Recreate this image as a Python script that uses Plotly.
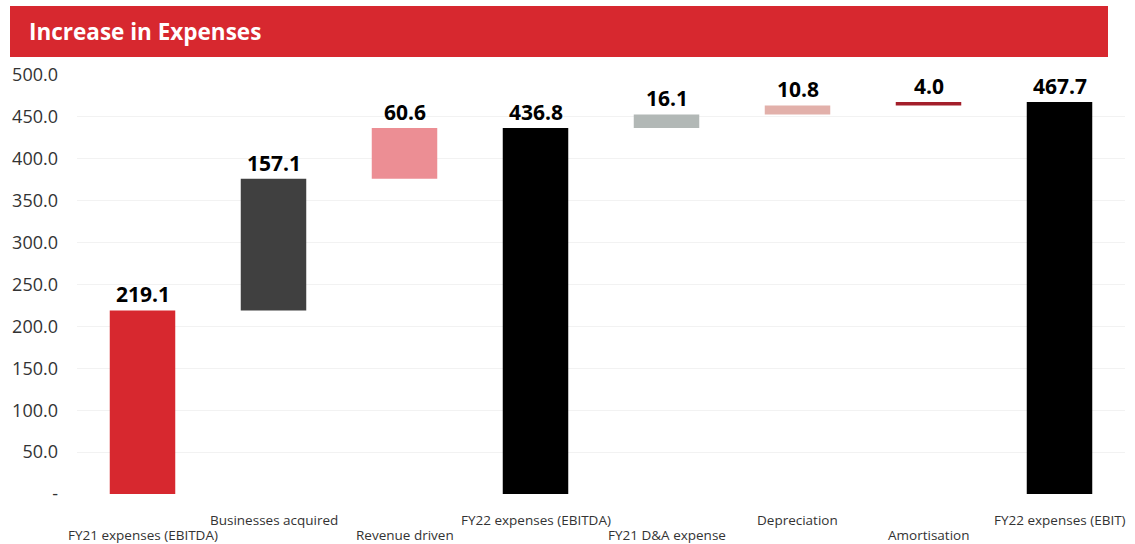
import plotly.graph_objects as go

# Expense bridge from FY21 to FY22
categories = [
    "FY21 expenses (EBITDA)",
    "Businesses acquired",
    "Revenue driven",
    "FY22 expenses (EBITDA)",
    "FY21 D&A expense",
    "Depreciation",
    "Amortisation",
    "FY22 expenses (EBIT)",
]
values = [219.1, 157.1, 60.6, 436.8, 16.1, 10.8, 4.0, 467.7]
is_total = [True, False, False, True, False, False, False, True]
colors = ["#d7282f", "#404040", "#ec8e94", "#000000",
          "#b2b8b6", "#e2b0aa", "#a31f2a", "#000000"]

y_ticks = [0, 50, 100, 150, 200, 250, 300, 350, 400, 450, 500]
y_tick_text = ["-" if t == 0 else f"{t:.1f}" for t in y_ticks]

# floating bases: totals start at zero, steps stack on the running sum
bases = []
running = 0.0
for v, tot in zip(values, is_total):
    if tot:
        bases.append(0.0)
        running = v
    else:
        bases.append(running)
        running += v

FONT = "Open Sans"
PLOT_W, PLOT_H = 1048, 419   # plot area size in pixels
LEFT, TOP = 77, 75

fig = go.Figure(
    go.Bar(
        x=categories,
        y=values,
        base=bases,
        marker=dict(color=colors, line=dict(width=0)),
        hoverinfo="skip",
    )
)

annotations = []
for i, (c, v, b) in enumerate(zip(categories, values, bases)):
    # value label on top of each bar
    annotations.append(dict(
        x=c, y=b + v, xref="x", yref="y",
        text=f"<b>{v:.1f}</b>", showarrow=False,
        yanchor="bottom",
        font=dict(family=FONT, size=21, color="#000000"),
    ))
    # staggered category labels below the axis
    annotations.append(dict(
        x=c, y=0, xref="x", yref="paper",
        yshift=-26 if i % 2 else -41,
        text=c, showarrow=False, yanchor="middle",
        font=dict(family=FONT, size=13.5, color="#333333"),
    ))

# title text inside the red banner
annotations.append(dict(
    x=(27 - LEFT) / PLOT_W, y=1 + (TOP - 32) / PLOT_H,
    xref="paper", yref="paper", text="<b>Increase in Expenses</b>",
    showarrow=False, xanchor="left", yanchor="middle",
    font=dict(family=FONT, size=22.5, color="#ffffff"),
))

fig.update_layout(
    width=1135, height=544,
    margin=dict(l=LEFT, r=1135 - LEFT - PLOT_W, t=TOP, b=544 - TOP - PLOT_H,
                autoexpand=False),
    paper_bgcolor="#ffffff", plot_bgcolor="#ffffff",
    bargap=0.5, showlegend=False,
    font=dict(family=FONT, color="#333333"),
    shapes=[dict(
        type="rect", xref="paper", yref="paper",
        x0=(10 - LEFT) / PLOT_W, x1=(1108 - LEFT) / PLOT_W,
        y0=1 + (TOP - 57) / PLOT_H, y1=1 + (TOP - 6) / PLOT_H,
        fillcolor="#d7282f", line=dict(width=0), layer="above",
    )],
    annotations=annotations,
)

fig.update_xaxes(range=[-0.5, len(categories) - 0.5], autorange=False,
                 showticklabels=False, showgrid=False, zeroline=False,
                 showline=False, fixedrange=True, automargin=False)
fig.update_yaxes(range=[0, 500], autorange=False,
                 tickvals=y_ticks, ticktext=y_tick_text,
                 showgrid=True, gridcolor="#f2f2f2", gridwidth=1,
                 zeroline=False, showline=False, ticklabelstandoff=18,
                 automargin=False,
                 tickfont=dict(family=FONT, size=18, color="#333333"),
                 fixedrange=True)

fig.write_html("out.html")
